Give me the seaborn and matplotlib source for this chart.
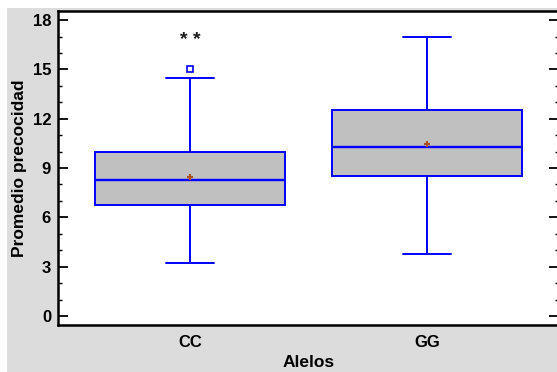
import numpy as np
import pandas as pd
import matplotlib
matplotlib.use("Agg")
import matplotlib.pyplot as plt
import matplotlib.patches as mpatches
from matplotlib.ticker import MultipleLocator
import seaborn as sns

# ---- data ----
categories = ["CC", "GG"]
cc_values = [3.25, 3.8, 5.2, 6.75, 6.9, 7.5, 8.3, 8.5, 9.0, 10.0, 11.15, 14.5, 15.0]
gg_values = [3.75, 6.0, 7.5, 8.5, 9.0, 9.8, 10.25, 11.0, 12.0, 12.5, 13.5, 15.05, 17.0]
y_ticks = [0, 3, 6, 9, 12, 15, 18]
annotation = "* *"

df = pd.DataFrame({
    "Alelos": [categories[0]] * len(cc_values) + [categories[1]] * len(gg_values),
    "Promedio precocidad": cc_values + gg_values,
})

sns.set_style("ticks")
plt.rcParams["font.family"] = ["Liberation Sans", "DejaVu Sans"]
plt.rcParams["font.weight"] = "bold"
for key in ["text.color", "axes.labelcolor", "xtick.color", "ytick.color",
            "xtick.labelcolor", "ytick.labelcolor"]:
    plt.rcParams[key] = "black"

fig = plt.figure(figsize=(5.57, 3.72), dpi=100, facecolor="white")
bg = mpatches.Rectangle((7 / 557, 0), 1 - 7 / 557, (372 - 8) / 372,
                        transform=fig.transFigure, facecolor="#dcdcdc",
                        edgecolor="none", zorder=0)
fig.add_artist(bg)

ax = fig.add_axes([58 / 557, 47 / 372, 501 / 557, 314.3 / 372])
ax.set_facecolor("white")

blue = "#0000ff"
sns.boxplot(
    data=df, x="Alelos", y="Promedio precocidad", ax=ax,
    order=categories, color="#c0c0c0", saturation=1, width=0.8,
    linecolor=blue, linewidth=1.4, whis=1.5,
    showmeans=True,
    meanprops=dict(marker="+", markersize=5, markeredgecolor="#a8501e",
                   markerfacecolor="#a8501e", markeredgewidth=1.5),
    flierprops=dict(marker="s", markersize=4.5, markerfacecolor="none",
                    markeredgecolor=blue, markeredgewidth=1.2),
    medianprops=dict(color=blue, linewidth=1.7),
    whiskerprops=dict(color=blue, linewidth=1.4),
    capprops=dict(color=blue, linewidth=1.4),
    boxprops=dict(edgecolor=blue, linewidth=1.4),
    capwidths=0.2,
)

ax.text(0, 16.75, annotation, ha="center", va="center", fontsize=14,
        color="#1a1a1a", fontweight="bold")

ax.set_xlim(-0.557, 1.557)
ax.set_ylim(-0.55, 18.57)
ax.set_yticks(y_ticks)
ax.yaxis.set_minor_locator(MultipleLocator(1))

for side in ["left", "top", "right", "bottom"]:
    ax.spines[side].set_visible(True)
    ax.spines[side].set_color("black")
    ax.spines[side].set_linewidth(1.8)

ax.tick_params(axis="y", which="major", direction="in", length=7, width=1.3,
               left=True, right=True, labelsize=12, pad=5, colors="black")
ax.tick_params(axis="y", which="minor", direction="in", length=3, width=1.0,
               left=True, right=True, colors="black")
ax.tick_params(axis="x", which="both", length=0, labelsize=12, pad=7,
               colors="black")
for lab in ax.get_xticklabels() + ax.get_yticklabels():
    lab.set_fontweight("bold")

ax.set_xlabel("Alelos", fontsize=12.5, fontweight="bold", labelpad=4,
              color="black")
ax.set_ylabel("Promedio precocidad", fontsize=12.5, fontweight="bold",
              labelpad=4, color="black")

fig.savefig("out.png", dpi=100, facecolor="white")
